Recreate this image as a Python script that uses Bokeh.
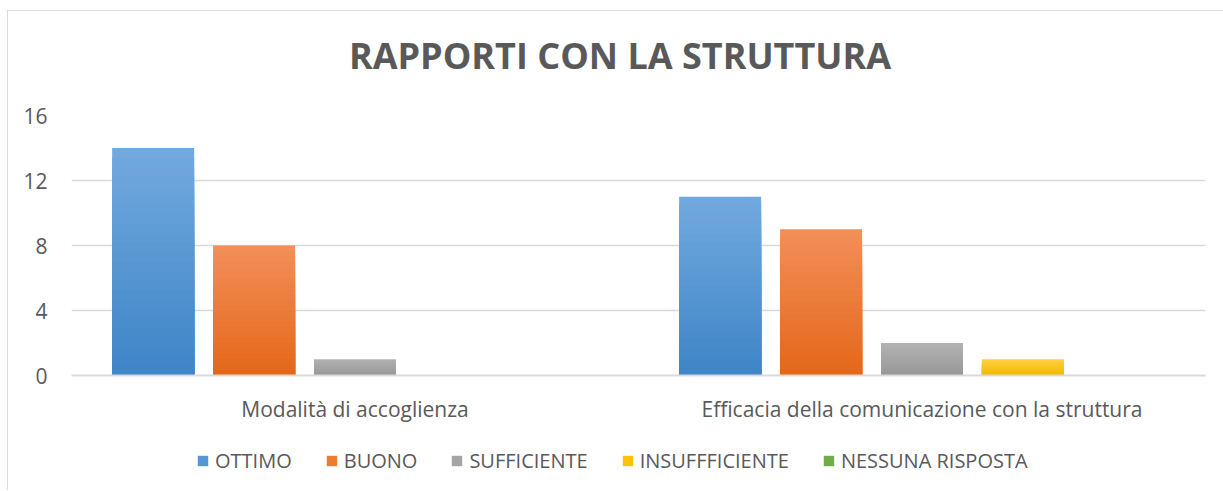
from bokeh.plotting import figure
from bokeh.layouts import column
from bokeh.models import (FactorRange, Range1d, FixedTicker, ColumnDataSource,
                          Legend, LegendItem, Div)
from bokeh.transform import dodge
from bokeh.embed import file_html
from bokeh.resources import INLINE

# ---- data ----
categories = ["Modalità di accoglienza", "Efficacia della comunicazione con la struttura"]
series_names = ["OTTIMO", "BUONO", "SUFFICIENTE", "INSUFFFICIENTE", "NESSUNA RISPOSTA"]
ottimo = [14, 11]
buono = [8, 9]
sufficiente = [1, 2]
insufficiente = [0, 1]
nessuna = [0, 0]
y_ticks = [0, 4, 8, 12, 16]
title_text = "RAPPORTI CON LA STRUTTURA"

# (light top, dark bottom) gradient colours per series
top_colors = ["#71a9de", "#f28e58", "#b2b2b2", "#ffd13e", "#80c05a"]
bot_colors = ["#3f85c7", "#e4681a", "#979797", "#f0b800", "#60a038"]
legend_colors = ["#5597d6", "#ef7b2e", "#a5a5a5", "#ffc20a", "#70ad47"]
values = [ottimo, buono, sufficiente, insufficiente, nessuna]

src = ColumnDataSource(dict(cat=categories, **{f"s{i}": v for i, v in enumerate(values)}))

FONT = "Open Sans"
TXT = "#595959"
GRID = "#d9d9d9"


def mix(c1, c2, t):
    a = [int(c1[k:k + 2], 16) for k in (1, 3, 5)]
    b = [int(c2[k:k + 2], 16) for k in (1, 3, 5)]
    return "#" + "".join(f"{round(x + (y - x) * t):02x}" for x, y in zip(a, b))


# title strip
title_div = Div(
    text=(f'<div style="font-family:\'Open Sans\';font-size:36px;font-weight:bold;'
          f'color:{TXT};text-align:center;line-height:90px;white-space:nowrap;'
          f'width:1224px;">{title_text}</div>'),
    width=1216, height=86)
title_div.margin = (10, 0, 0, 7)
title_div.styles = {"border-top": "1px solid #d9d9d9", "border-left": "1px solid #d9d9d9",
                    "background-color": "white"}

p = figure(width=1216, height=340,
           x_range=FactorRange(*categories, range_padding=0),
           y_range=Range1d(0, 16),
           output_backend="svg", toolbar_location=None,
           min_border_left=63, min_border_right=19,
           min_border_top=19, min_border_bottom=61)
p.margin = (0, 0, 0, 7)
p.styles = {"border-left": "1px solid #d9d9d9"}

p.outline_line_color = None
p.background_fill_color = "white"
p.border_fill_color = "white"

# axes
p.yaxis.ticker = FixedTicker(ticks=y_ticks)
p.yaxis.axis_line_color = None
p.yaxis.major_tick_line_color = None
p.yaxis.minor_tick_line_color = None
p.yaxis.major_label_text_font = FONT
p.yaxis.major_label_text_font_size = "21px"
p.yaxis.major_label_text_color = TXT
p.yaxis.major_label_standoff = 18

p.xaxis.axis_line_color = GRID
p.xaxis.axis_line_width = 2
p.xaxis.major_tick_line_color = None
p.xaxis.minor_tick_line_color = None
p.xaxis.major_label_text_font = FONT
p.xaxis.major_label_text_font_size = "21px"
p.xaxis.major_label_text_color = TXT
p.xaxis.major_label_standoff = 13

p.xgrid.grid_line_color = None
p.ygrid.grid_line_color = GRID
p.ygrid.grid_line_width = 1.5

# bars: stacked layers of decreasing height give a vertical light->dark gradient
bar_w = 0.1446
pitch = 0.178
STEPS = 24
for i, name in enumerate(series_names):
    x = dodge("cat", (i - 2) * pitch, range=p.x_range)
    for k in range(STEPS):
        frac = 1 - k / STEPS
        col = f"g{i}_{k}"
        src.data[col] = [v * frac for v in values[i]]
        p.vbar(x=x, top=col, width=bar_w, source=src,
               fill_color=mix(top_colors[i], bot_colors[i], k / (STEPS - 1)),
               line_color=None)

# legend strip (separate figure so the legend is not clipped)
lf = figure(width=1216, height=54, output_backend="svg", toolbar_location=None,
            x_axis_location=None, y_axis_location=None,
            min_border_left=0, min_border_right=0, min_border_top=0, min_border_bottom=0,
            x_range=Range1d(0, 1), y_range=Range1d(0, 1))
lf.margin = (0, 0, 0, 7)
lf.styles = {"border-left": "1px solid #d9d9d9"}
lf.outline_line_color = None
lf.grid.grid_line_color = None
items = []
for i, name in enumerate(series_names):
    # zero-height bar: invisible in the strip, only supplies the legend swatch
    r = lf.vbar(x=[0.5], top=[0], bottom=[0], width=0.1,
                fill_color=legend_colors[i], line_color=None)
    items.append(LegendItem(label=name, renderers=[r]))

legend = Legend(items=items, orientation="horizontal", location=(125, 16),
                glyph_width=13, glyph_height=13, label_standoff=6, spacing=33,
                padding=0, margin=0, border_line_color=None,
                background_fill_alpha=0,
                label_text_font=FONT, label_text_font_size="20px",
                label_text_color=TXT)
lf.add_layout(legend, "center")

layout = column(title_div, p, lf, spacing=0)
open("out.html", "w").write(file_html(layout, INLINE))
